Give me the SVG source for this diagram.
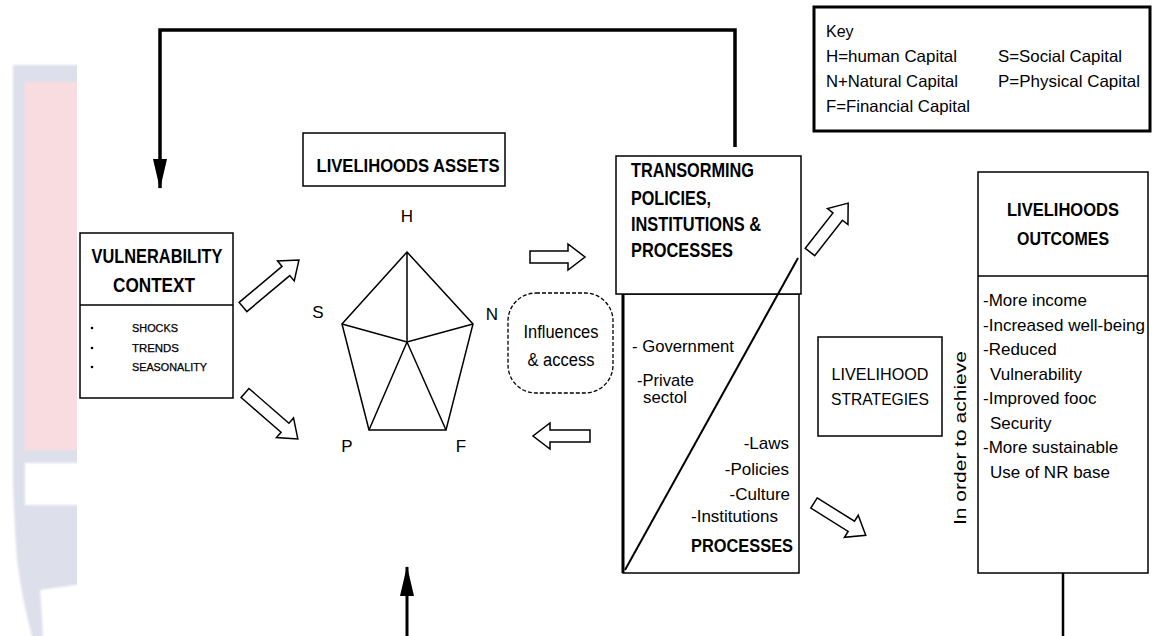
<svg xmlns="http://www.w3.org/2000/svg" width="1155" height="636" viewBox="0 0 1155 636">
<defs>
<style>
.t{font-family:"Liberation Sans",Arial,sans-serif;fill:#000}
.b{font-weight:bold}
.box{fill:#fff;stroke:#000;stroke-width:1.5}
.ln{fill:none;stroke:#000;stroke-width:1.5}
.fb{fill:none;stroke:#000;stroke-width:3.5}
.blk{fill:#fff;stroke:#000;stroke-width:1.5;stroke-linejoin:miter}
.sm{font-size:10px;stroke:#000;stroke-width:0.25}
</style>
<marker id="ah" markerWidth="30" markerHeight="16" refX="29" refY="8" orient="auto" markerUnits="userSpaceOnUse">
<path d="M0,1 L30,8 L0,15 Z" fill="#000"/>
</marker>
<clipPath id="wmclip"><rect x="0" y="0" width="77" height="636"/></clipPath>
<filter id="soft" x="-10%" y="-10%" width="120%" height="120%"><feGaussianBlur stdDeviation="1.2"/></filter>
</defs>
<rect width="1155" height="636" fill="#fff"/>

<g id="watermark" clip-path="url(#wmclip)">
<g filter="url(#soft)">
<path d="M13,65 L90,65 L90,583 L40,590 Q42,612 43,640 L33,640 Q22,600 17,560 Q14,520 13,480 Z" fill="#dde0eb"/>
<rect x="25" y="82" width="65" height="368" fill="#f9dcdf"/>
<rect x="25" y="463" width="65" height="42" fill="#fff"/>
</g>
</g>

<g id="connectors">
<path class="fb" d="M735,147 L735,30 L160,30 L160,188" marker-end="url(#ah)"/>
<path class="fb" d="M407,636 L407,567" marker-end="url(#ah)" style="stroke-width:3"/>
<path class="fb" d="M1063,573 L1063,636" style="stroke-width:2.5"/>
<path class="blk" transform="translate(243,307) rotate(-40)" d="M0,-6 L56,-6 L56,-13 L73,0 L56,13 L56,6 L0,6 Z"/>
<path class="blk" transform="translate(245,393) rotate(41)" d="M0,-6 L53,-6 L53,-13 L70,0 L53,13 L53,6 L0,6 Z"/>
<path class="blk" transform="translate(530,257)" d="M0,-6 L38,-6 L38,-13 L55,0 L38,13 L38,6 L0,6 Z"/>
<path class="blk" transform="translate(590,436) rotate(180)" d="M0,-6 L40,-6 L40,-13 L57,0 L40,13 L40,6 L0,6 Z"/>
<path class="blk" transform="translate(810,252) rotate(-52)" d="M0,-6 L45,-6 L45,-13 L62,0 L45,13 L45,6 L0,6 Z"/>
<path class="blk" transform="translate(814,503) rotate(32)" d="M0,-6 L44,-6 L44,-13 L61,0 L44,13 L44,6 L0,6 Z"/>
</g>

<g id="key">
<rect x="814" y="7" width="336" height="124" fill="#fff" stroke="#000" stroke-width="3"/>
<text class="t" x="826" y="37" font-size="16">Key</text>
<text class="t" x="826" y="62" font-size="16.5" textLength="131" lengthAdjust="spacingAndGlyphs">H=human Capital</text>
<text class="t" x="826" y="87" font-size="16.5" textLength="132" lengthAdjust="spacingAndGlyphs">N+Natural Capital</text>
<text class="t" x="826" y="112" font-size="16.5" textLength="144" lengthAdjust="spacingAndGlyphs">F=Financial Capital</text>
<text class="t" x="998" y="62" font-size="16.5" textLength="124" lengthAdjust="spacingAndGlyphs">S=Social Capital</text>
<text class="t" x="998" y="87" font-size="16.5" textLength="142" lengthAdjust="spacingAndGlyphs">P=Physical Capital</text>
</g>

<g id="vulnerability">
<rect class="box" x="80" y="233" width="153" height="165"/>
<line class="ln" x1="80" y1="305" x2="233" y2="305"/>
<text class="t b" x="157" y="263" font-size="20" text-anchor="middle" textLength="131" lengthAdjust="spacingAndGlyphs">VULNERABILITY</text>
<text class="t b" x="154" y="292" font-size="20" text-anchor="middle" textLength="82" lengthAdjust="spacingAndGlyphs">CONTEXT</text>
<circle cx="92" cy="328" r="1.3"/>
<circle cx="92" cy="348" r="1.3"/>
<circle cx="92" cy="367" r="1.3"/>
<text class="t sm" x="132" y="332" textLength="46" lengthAdjust="spacingAndGlyphs">SHOCKS</text>
<text class="t sm" x="132" y="352" textLength="47" lengthAdjust="spacingAndGlyphs">TRENDS</text>
<text class="t sm" x="132" y="371" textLength="75" lengthAdjust="spacingAndGlyphs">SEASONALITY</text>
</g>

<g id="assets">
<rect class="box" x="303" y="133" width="202" height="53"/>
<text class="t b" x="408" y="172" font-size="19" text-anchor="middle" textLength="183" lengthAdjust="spacingAndGlyphs">LIVELIHOODS ASSETS</text>
</g>

<g id="pentagon">
<path class="ln" d="M407,252 L473,324 L446,430 L369,430 L342,324 Z"/>
<path class="ln" d="M407,252 L407,342 M342,324 L407,342 L473,324 M369,430 L407,342 L446,430"/>
<text class="t" x="407" y="222" font-size="17" text-anchor="middle">H</text>
<text class="t" x="318" y="318" font-size="17" text-anchor="middle">S</text>
<text class="t" x="492" y="320" font-size="17" text-anchor="middle">N</text>
<text class="t" x="347" y="452" font-size="17" text-anchor="middle">P</text>
<text class="t" x="461" y="452" font-size="17" text-anchor="middle">F</text>
</g>

<g id="influences">
<rect x="508" y="293" width="105" height="100" rx="28" fill="#fff" stroke="#000" stroke-width="1.3" stroke-dasharray="4 2"/>
<text class="t" x="561" y="338" font-size="18" text-anchor="middle" textLength="75" lengthAdjust="spacingAndGlyphs">Influences</text>
<text class="t" x="561" y="366" font-size="18" text-anchor="middle" textLength="67" lengthAdjust="spacingAndGlyphs">&amp; access</text>
</g>

<g id="transforming">
<rect class="box" x="623" y="294" width="176" height="279"/>
<line x1="623" y1="294" x2="623" y2="573" stroke="#000" stroke-width="3"/>
<rect class="box" x="616" y="156" width="185" height="138"/>
<line x1="625" y1="570" x2="798" y2="258" stroke="#000" stroke-width="2"/>
<text class="t b" x="631" y="177" font-size="20" textLength="123" lengthAdjust="spacingAndGlyphs">TRANSORMING</text>
<text class="t b" x="631" y="205" font-size="20" textLength="80" lengthAdjust="spacingAndGlyphs">POLICIES,</text>
<text class="t b" x="631" y="231" font-size="20" textLength="130" lengthAdjust="spacingAndGlyphs">INSTITUTIONS &amp;</text>
<text class="t b" x="631" y="257" font-size="20" textLength="102" lengthAdjust="spacingAndGlyphs">PROCESSES</text>
<text class="t" x="632" y="352" font-size="17" textLength="102" lengthAdjust="spacingAndGlyphs">- Government</text>
<text class="t" x="637" y="386" font-size="17" textLength="57" lengthAdjust="spacingAndGlyphs">-Private</text>
<text class="t" x="643" y="403" font-size="17" textLength="44" lengthAdjust="spacingAndGlyphs">sectol</text>
<text class="t" x="789" y="449" font-size="17" text-anchor="end">-Laws</text>
<text class="t" x="789" y="475" font-size="17" text-anchor="end">-Policies</text>
<text class="t" x="790" y="500" font-size="17" text-anchor="end">-Culture</text>
<text class="t" x="691" y="522" font-size="17" textLength="87" lengthAdjust="spacingAndGlyphs">-Institutions</text>
<text class="t b" x="691" y="552" font-size="19" textLength="102" lengthAdjust="spacingAndGlyphs">PROCESSES</text>
</g>

<g id="strategies">
<rect class="box" x="818" y="337" width="124" height="99"/>
<text class="t" x="880" y="380" font-size="17" text-anchor="middle" textLength="97" lengthAdjust="spacingAndGlyphs">LIVELIHOOD</text>
<text class="t" x="880" y="405" font-size="17" text-anchor="middle" textLength="98" lengthAdjust="spacingAndGlyphs">STRATEGIES</text>
</g>

<g id="achieve">
<text class="t" transform="translate(966,438) rotate(-90)" font-size="17" text-anchor="middle" textLength="174" lengthAdjust="spacingAndGlyphs">In order to achieve</text>
</g>

<g id="outcomes">
<rect class="box" x="978" y="172" width="170" height="401"/>
<line class="ln" x1="978" y1="276" x2="1148" y2="276"/>
<text class="t b" x="1063" y="216" font-size="19" text-anchor="middle" textLength="112" lengthAdjust="spacingAndGlyphs">LIVELIHOODS</text>
<text class="t b" x="1063" y="245" font-size="19" text-anchor="middle" textLength="92" lengthAdjust="spacingAndGlyphs">OUTCOMES</text>
<text class="t" x="983" y="306" font-size="17">-More income</text>
<text class="t" x="983" y="331" font-size="17" textLength="162" lengthAdjust="spacingAndGlyphs">-Increased well-being</text>
<text class="t" x="983" y="355" font-size="17">-Reduced</text>
<text class="t" x="990" y="380" font-size="17">Vulnerability</text>
<text class="t" x="983" y="404" font-size="17">-Improved fooc</text>
<text class="t" x="990" y="429" font-size="17">Security</text>
<text class="t" x="983" y="453" font-size="17">-More sustainable</text>
<text class="t" x="990" y="478" font-size="17">Use of NR base</text>
</g>
</svg>
